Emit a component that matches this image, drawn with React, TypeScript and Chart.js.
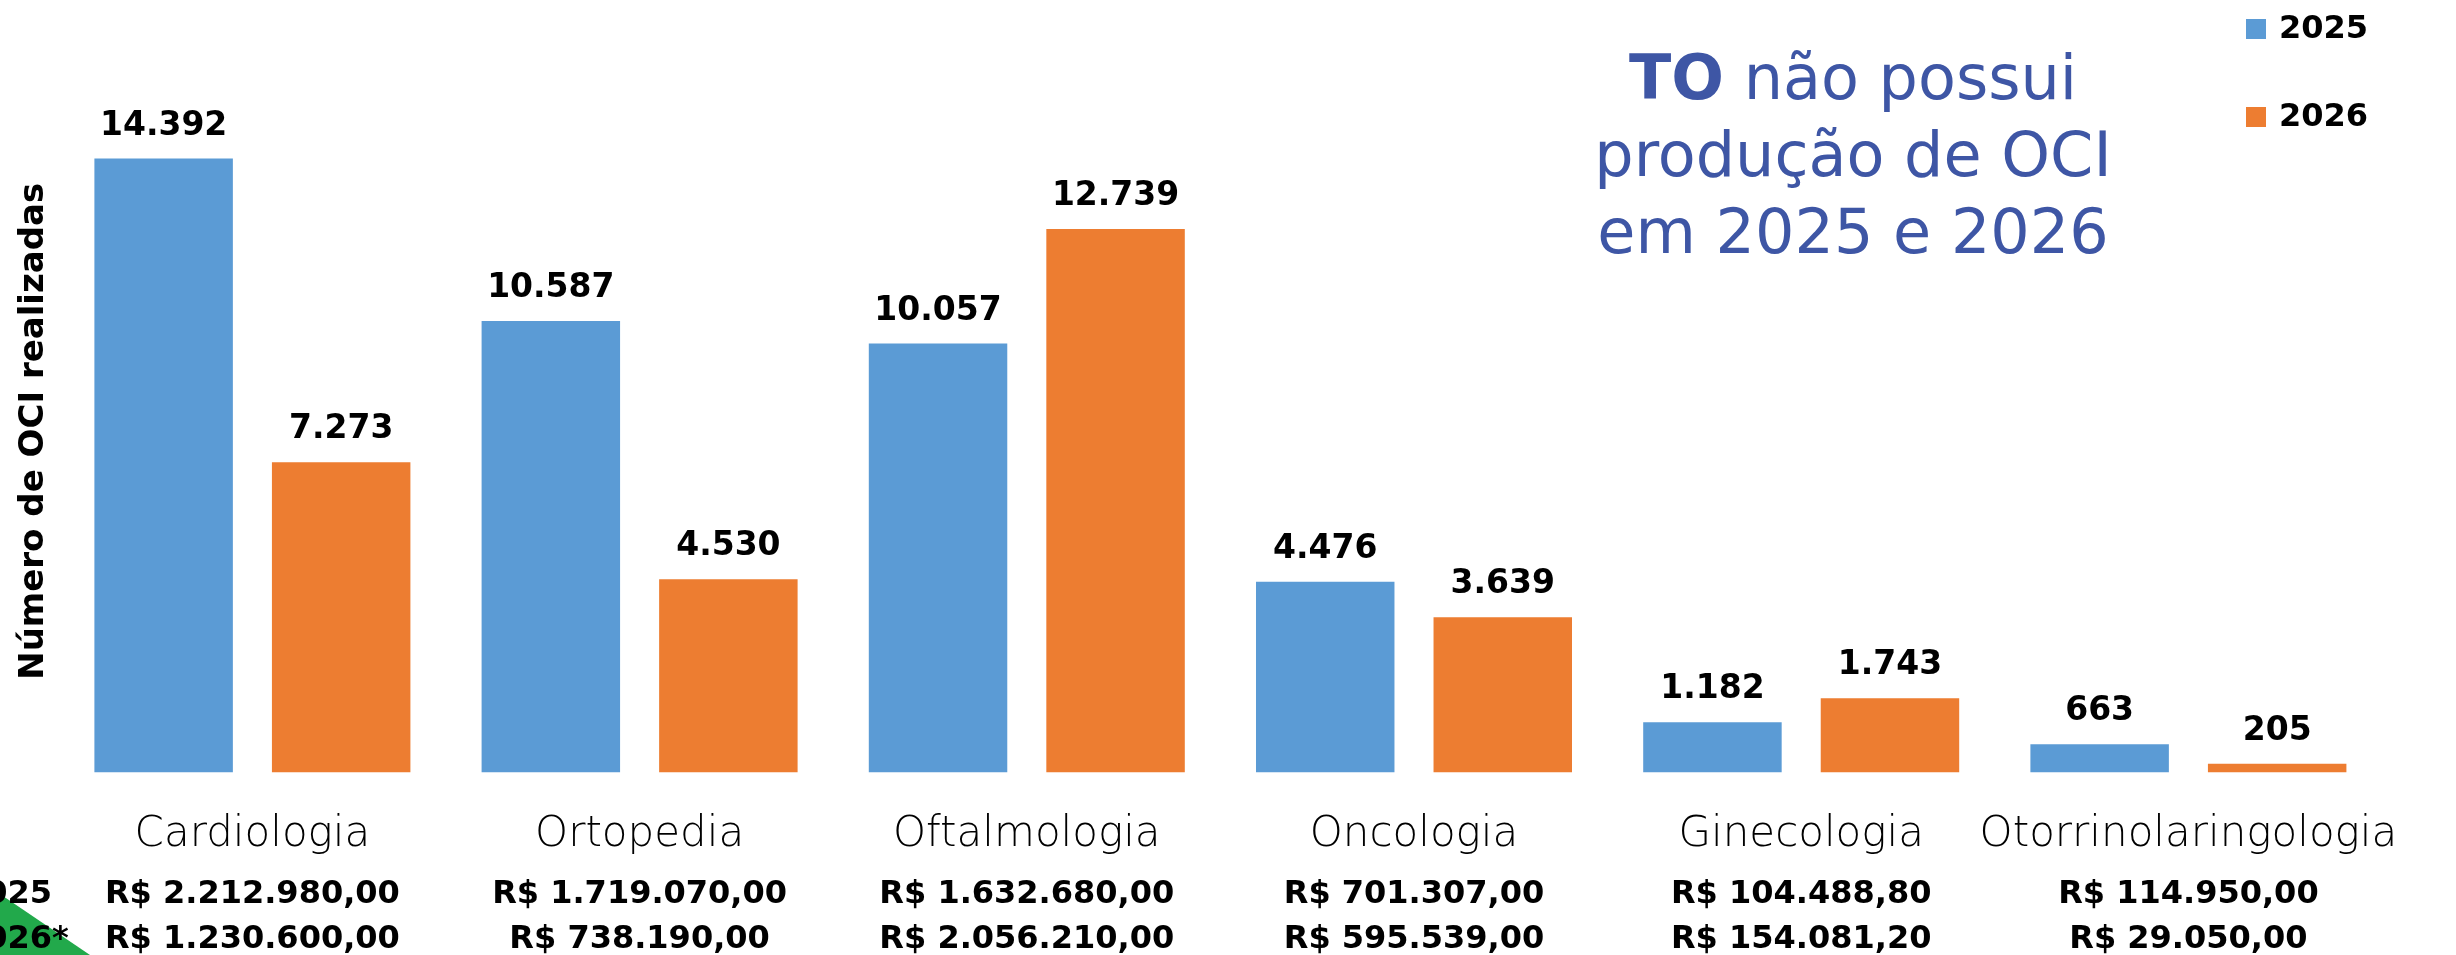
import React, { useEffect, useRef } from 'react';
import { Chart, registerables } from 'chart.js';

Chart.register(...registerables);

const categories = ['Cardiologia', 'Ortopedia', 'Oftalmologia', 'Oncologia', 'Ginecologia', 'Otorrinolaringologia'];
const seriesLabels = ['2025', '2026'];
const values2025 = [14392, 10587, 10057, 4476, 1182, 663];
const values2026 = [7273, 4530, 12739, 3639, 1743, 205];
const rowLabels = ['2025', '2026*'];
const revenue2025 = ['R$ 2.212.980,00', 'R$ 1.719.070,00', 'R$ 1.632.680,00', 'R$ 701.307,00', 'R$ 104.488,80', 'R$ 114.950,00'];
const revenue2026 = ['R$ 1.230.600,00', 'R$ 738.190,00', 'R$ 2.056.210,00', 'R$ 595.539,00', 'R$ 154.081,20', 'R$ 29.050,00'];
const yAxisTitle = 'Número de OCI realizadas';
const noteBold = 'TO';
const noteLines = [' não possui', 'produção de OCI', 'em 2025 e 2026'];

const BLUE = '#5B9BD5';
const ORANGE = '#ED7D31';
const NOTE_COLOR = '#3E56A5';
const BOLD = "bold 33px 'DejaVu Sans'";
const BOLD_REV = "bold 32px 'DejaVu Sans'";

const fmt = (v: number) => String(v).replace(/\B(?=(\d{3})+(?!\d))/g, '.');

const overlayPlugin = {
  id: 'overlay',
  afterDatasetsDraw(chart: any) {
    const ctx = chart.ctx;
    ctx.save();
    ctx.fillStyle = '#000';
    ctx.font = BOLD;
    ctx.textAlign = 'center';
    ctx.textBaseline = 'alphabetic';
    chart.data.datasets.forEach((ds: any, di: number) => {
      const meta = chart.getDatasetMeta(di);
      meta.data.forEach((el: any, i: number) => {
        ctx.fillText(fmt(ds.data[i]), el.x, el.y - 24);
      });
    });
    ctx.restore();
  },
  afterDraw(chart: any) {
    const ctx = chart.ctx;
    const xs = chart.scales.x;
    ctx.save();
    // green corner decoration
    ctx.fillStyle = '#22A94B';
    ctx.beginPath();
    ctx.moveTo(0, 894);
    ctx.lineTo(90, 955);
    ctx.lineTo(0, 955);
    ctx.closePath();
    ctx.fill();

    // revenue rows
    ctx.fillStyle = '#000';
    ctx.font = BOLD_REV;
    ctx.textBaseline = 'alphabetic';
    ctx.textAlign = 'center';
    categories.forEach((_, i) => {
      const x = xs.getPixelForValue(i);
      ctx.fillText(revenue2025[i], x, 903);
      ctx.fillText(revenue2026[i], x, 948);
    });
    ctx.textAlign = 'left';
    const startX = 52 - ctx.measureText(rowLabels[0]).width;
    ctx.fillText(rowLabels[0], startX, 903);
    ctx.fillText(rowLabels[1], startX, 948);

    // legend
    const legendFont = "bold 32px 'DejaVu Sans'";
    ctx.font = legendFont;
    chart.data.datasets.forEach((ds: any, di: number) => {
      const cy = 29 + di * 88;
      ctx.fillStyle = ds.backgroundColor;
      ctx.fillRect(2246, cy - 10, 20, 20);
      ctx.fillStyle = '#000';
      ctx.textBaseline = 'middle';
      ctx.fillText(ds.label, 2279, cy + 1);
    });

    // note
    ctx.fillStyle = NOTE_COLOR;
    ctx.textBaseline = 'alphabetic';
    const cx = 1853;
    const boldF = "bold 62px 'DejaVu Sans'";
    const regF = "62px 'DejaVu Sans'";
    ctx.font = boldF;
    const wb = ctx.measureText(noteBold).width;
    ctx.font = regF;
    const wr = ctx.measureText(noteLines[0]).width;
    const x0 = cx - (wb + wr) / 2;
    ctx.textAlign = 'left';
    ctx.font = boldF;
    ctx.fillText(noteBold, x0, 99);
    ctx.font = regF;
    ctx.fillText(noteLines[0], x0 + wb, 99);
    ctx.textAlign = 'center';
    ctx.fillText(noteLines[1], cx, 176);
    ctx.fillText(noteLines[2], cx, 253);
    ctx.restore();
  },
};

export default function App() {
  const ref = useRef<HTMLCanvasElement | null>(null);
  useEffect(() => {
    if (!ref.current) return;
    const chart = new Chart(ref.current, {
      type: 'bar',
      data: {
        labels: categories,
        datasets: [
          { label: seriesLabels[0], data: values2025, backgroundColor: BLUE },
          { label: seriesLabels[1], data: values2026, backgroundColor: ORANGE },
        ],
      },
      options: {
        responsive: false,
        animation: false,
        devicePixelRatio: 1,
        layout: { padding: { left: 10, right: 74, top: 90, bottom: 58 } },
        datasets: { bar: { categoryPercentage: 0.917, barPercentage: 0.78 } },
        plugins: { legend: { display: false }, tooltip: { enabled: false } },
        scales: {
          x: {
            grid: { display: false, drawTicks: false },
            border: { display: false },
            ticks: {
              color: '#000',
              font: { family: "'DejaVu Sans'", size: 42, weight: '200' },
              padding: 37,
              autoSkip: false,
              maxRotation: 0,
              minRotation: 0,
            },
          },
          y: {
            min: 0,
            max: 16000,
            grid: { display: false, drawTicks: false },
            border: { display: false },
            ticks: { display: false },
            title: {
              display: true,
              text: yAxisTitle,
              color: '#000',
              font: { family: "'DejaVu Sans'", size: 34, weight: 'bold' },
              padding: { top: 4, bottom: 4 },
            },
          },
        },
      },
      plugins: [overlayPlugin],
    });
    return () => chart.destroy();
  }, []);
  return (
    <div style={{ position: 'fixed', left: 0, top: 0, width: 2456, height: 955, background: '#fff' }}>
      <canvas ref={ref} width={2456} height={955} style={{ display: 'block' }} />
    </div>
  );
}
